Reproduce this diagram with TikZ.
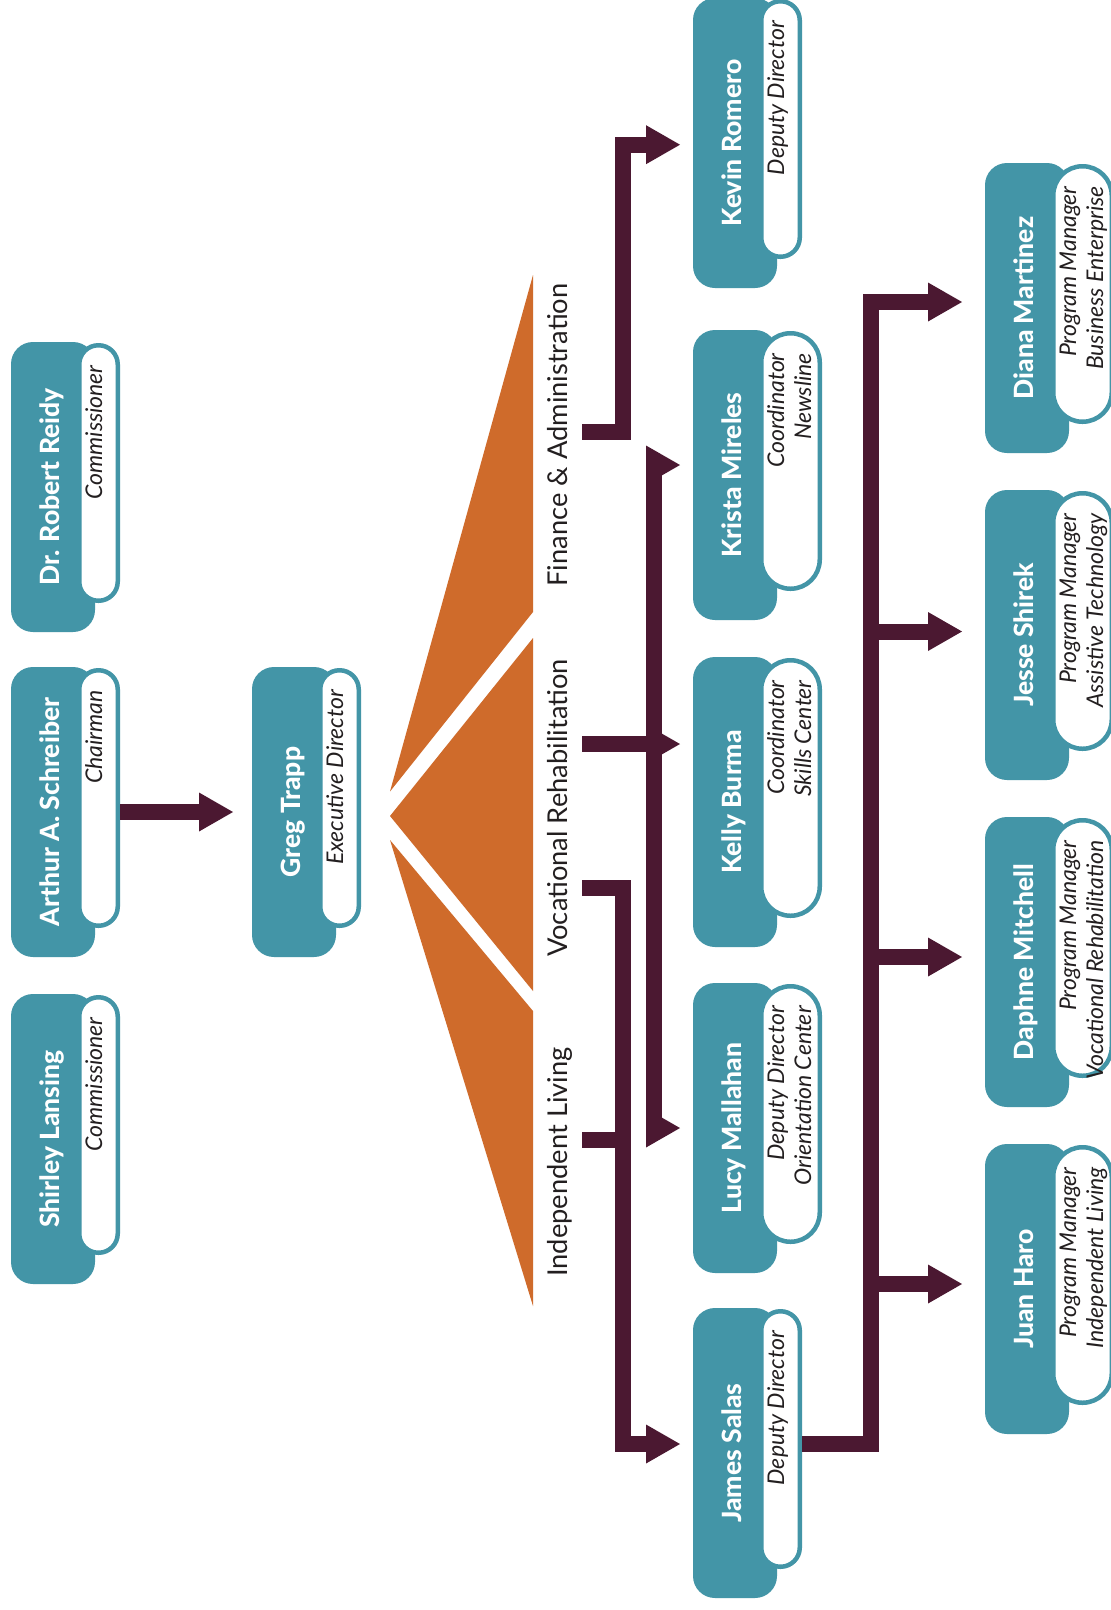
\documentclass[tikz,border=0pt]{standalone}
\usepackage{fontspec}
\setmainfont{Lato}
\newfontfamily\namefont{Lato Heavy}
\usetikzlibrary{arrows.meta}
\definecolor{tealc}{RGB}{67,149,167}
\definecolor{maroonc}{RGB}{75,24,49}
\definecolor{orangec}{RGB}{207,107,43}
\definecolor{textc}{RGB}{35,31,32}
\newcommand\orgperson[6]{%
  \pgfmathsetmacro\pw{#4-4.5}%
  \pgfmathsetmacro\pr{(#4-4.5)/2-0.1}%
  \node[tealbox] (#1) at ({#2+42},{#3+145}) {};
  \node[pillbox, minimum width=\pw pt, rounded corners=\pr pt] (#1-p) at ({#2+66+#4/2},{#3+131}) {};
  \node[namet] (#1-n) at ({#2+48},{#3+145}) {#5};
  \node[titlet] (#1-t) at ({#2+91},{#3+23}) {\begin{tabular}[t]{@{}r@{}}#6\end{tabular}};
}
\begin{document}
\begin{tikzpicture}[x=1pt,y=-1pt,
  tealbox/.style={fill=tealc, draw=none, rounded corners=22pt, minimum width=84pt, minimum height=290pt, inner sep=0pt},
  pillbox/.style={fill=white, draw=tealc, line width=4.5pt, minimum height=255.5pt, inner sep=0pt},
  namet/.style={rotate=90, anchor=base, text=white, font=\namefont\fontsize{26.5}{30}\selectfont, inner sep=0pt},
  titlet/.style={rotate=90, anchor=base east, text=textc, font=\itshape\fontsize{23}{27}\selectfont, inner sep=0pt},
  branch/.style={rotate=90, anchor=base, text=textc, font=\fontsize{27.3}{32}\selectfont, inner sep=0pt},
  conn/.style={draw=maroonc, line width=16pt, line cap=butt, line join=miter},
  arr/.style={-{Triangle[length=34pt,width=39pt,line width=0pt]}},
  arrboth/.style={{Triangle[length=34pt,width=39pt,line width=0pt]}-{Triangle[length=34pt,width=39pt,line width=0pt]}}
]
\useasboundingbox (0,0) rectangle (1111,1610);
\fill[white] (0,0) rectangle (1111,1610);

% orange fan
\fill[orangec] (390,791.5) -- (533,275) -- (533,612) -- cycle;
\fill[orangec] (390,816) -- (533,638) -- (533,991) -- cycle;
\fill[orangec] (390,840) -- (533,1011) -- (533,1306) -- cycle;

% branch labels
\node[branch] (fin) at (567,435) {Finance \& Administration};
\node[branch] (voc) at (567,808) {Vocational Rehabilitation};
\node[branch] (ind) at (567,1162) {Independent Living};

% people
\orgperson{reidy}{11}{342}{43}{Dr. Robert Reidy}{Commissioner}
\orgperson{schreiber}{11}{667}{43}{Arthur A. Schreiber}{Chairman}
\orgperson{lansing}{11}{994}{43}{Shirley Lansing}{Commissioner}
\orgperson{trapp}{252}{667}{43}{Greg Trapp}{Executive Director}
\orgperson{romero}{693}{-2}{43}{Kevin Romero}{Deputy Director}
\orgperson{mireles}{693}{330}{63}{Krista Mireles}{Coordinator\\Newsline}
\orgperson{burma}{693}{657}{63}{Kelly Burma}{Coordinator\\Skills Center}
\orgperson{mallahan}{693}{983}{63}{Lucy Mallahan}{Deputy Director\\Orientation Center}
\orgperson{salas}{693}{1308}{43}{James Salas}{Deputy Director}
\orgperson{martinez}{985}{163}{63}{Diana Martinez}{Program Manager\\Business Enterprise}
\orgperson{shirek}{985}{490}{63}{Jesse Shirek}{Program Manager\\Assistive Technology}
\orgperson{mitchell}{985}{817}{63}{Daphne Mitchell}{Program Manager\\Vocational Rehabilitation}
\orgperson{haro}{985}{1144}{63}{Juan Haro}{Program Manager\\Independent Living}

% connector coordinates
\coordinate (tTrapp) at (233,812);
\coordinate (finS) at (582,431.5);
\coordinate (tRomero) at (680,144.7);
\coordinate (vocS) at (582,744);
\coordinate (tBurma) at (680,744);
\coordinate (tMireles) at (680,465);
\coordinate (tMallahan) at (680,1128);
\coordinate (vocS2) at (582,888);
\coordinate (indS) at (582,1140);
\coordinate (indJ) at (623,1140);
\coordinate (tSalas) at (680,1444);
\coordinate (busX) at (871,1444);
\coordinate (tMartinez) at (962,302);
\coordinate (tShirek) at (962,631.5);
\coordinate (tMitchell) at (962,957);
\coordinate (tHaro) at (962,1284);

% connectors
\draw[conn,arr] (schreiber-p.east |- tTrapp) -- (tTrapp);
\draw[conn,arr] (finS) -| ([xshift=-57pt]tRomero) -- (tRomero);
\draw[conn,arr] (vocS) -- (tBurma);
\draw[conn,arrboth] (tMireles) -- ([xshift=-26pt]tMireles) -- ([xshift=-26pt]tMallahan) -- (tMallahan);
\draw[conn,arr] (vocS2) -| ([xshift=-57pt]tSalas) -- (tSalas);
\draw[conn] (indS) -- (indJ);
\draw[conn,arr] (salas-p.east |- busX) -| (busX |- tMartinez) -- (tMartinez);
\draw[conn,arr] (busX |- tShirek) -- (tShirek);
\draw[conn,arr] (busX |- tMitchell) -- (tMitchell);
\draw[conn,arr] (busX |- tHaro) -- (tHaro);
\end{tikzpicture}
\end{document}
